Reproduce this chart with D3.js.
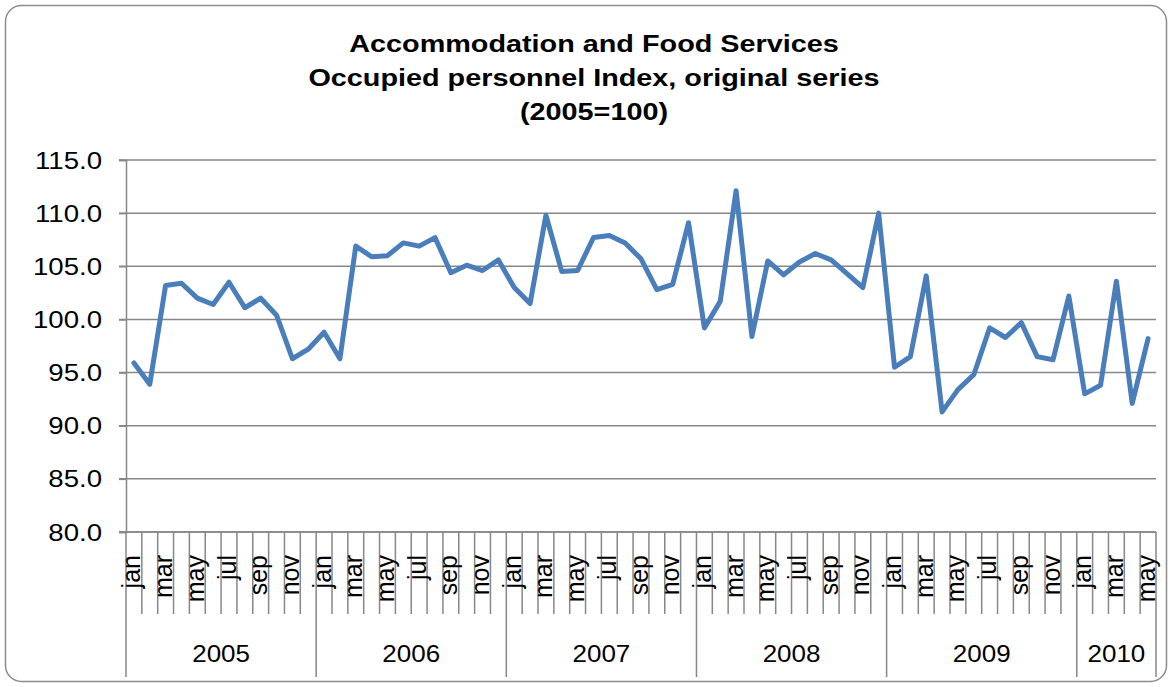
<!DOCTYPE html>
<html>
<head>
<meta charset="utf-8">
<script src="https://cdn.jsdelivr.net/npm/d3@7"></script>
<style>
  body { margin: 0; background: #fff; }
  svg { font-family: "Liberation Sans", Arial, sans-serif; }
</style>
</head>
<body>
<div id="chart"></div>
<script>
// Data
const years = [2005, 2006, 2007, 2008, 2009, 2010];
const monthNames = ['jan', 'feb', 'mar', 'apr', 'may', 'jun', 'jul', 'aug', 'sep', 'oct', 'nov', 'dec'];
const monthsPerYear = [12, 12, 12, 12, 12, 5];
const values = [
  95.9, 93.9, 103.2, 103.4, 102.0, 101.4, 103.5, 101.1, 102.0, 100.4, 96.3, 97.2,
  98.8, 96.3, 106.9, 105.9, 106.0, 107.2, 106.9, 107.7, 104.4, 105.1, 104.6, 105.6,
  103.0, 101.5, 109.8, 104.5, 104.6, 107.7, 107.9, 107.2, 105.7, 102.8, 103.3, 109.1,
  99.2, 101.7, 112.1, 98.4, 105.5, 104.2, 105.4, 106.2, 105.6, 104.3, 103.0, 110.0,
  95.5, 96.5, 104.1, 91.3, 93.4, 94.8, 99.2, 98.3, 99.7, 96.5, 96.2, 102.2,
  93.0, 93.8, 103.6, 92.1, 98.2
];
const yTicks = [80, 85, 90, 95, 100, 105, 110, 115];
const titleLines = ['Accommodation and Food Services', 'Occupied personnel Index, original series', '(2005=100)'];

// Build the category list
const categories = [];
years.forEach((y, yi) => {
  for (let m = 0; m < monthsPerYear[yi]; m++) {
    categories.push({ key: y + '-' + m, year: y, month: monthNames[m], m: m });
  }
});
const points = categories.map((c, i) => ({ key: c.key, value: values[i] }));

const W = 1172, H = 687;
const plot = { left: 126, right: 1156, top: 160, bottom: 532 };
// the reference text is a little wider than plain Arial
const stretch = 1.2;

const svg = d3.select('#chart').append('svg')
  .attr('width', W)
  .attr('height', H);

// Outer border
svg.append('rect')
  .attr('x', 5.5).attr('y', 5.5)
  .attr('width', W - 11).attr('height', H - 11)
  .attr('rx', 16)
  .attr('fill', '#fff')
  .attr('stroke', '#8c8c8c')
  .attr('stroke-width', 1.5);

// Title
svg.append('g').selectAll('text')
  .data(titleLines)
  .enter()
  .append('text')
  .attr('transform', (d, i) => `translate(594,${52 + i * 34}) scale(${stretch},1)`)
  .attr('text-anchor', 'middle')
  .attr('font-size', 24)
  .attr('font-weight', 'bold')
  .text(d => d);

// Scales
const x = d3.scaleBand()
  .domain(categories.map(c => c.key))
  .range([plot.left, plot.right]);

const y = d3.scaleLinear()
  .domain([80, 115])
  .range([plot.bottom, plot.top]);

// Gridlines
svg.append('g').selectAll('line')
  .data(yTicks)
  .enter()
  .append('line')
  .attr('x1', plot.left - 7)
  .attr('x2', plot.right)
  .attr('y1', d => y(d))
  .attr('y2', d => y(d))
  .attr('stroke', '#878787')
  .attr('stroke-width', 1.5);

// Y axis
const yAxis = svg.append('g')
  .attr('transform', `translate(${plot.left},0)`)
  .call(d3.axisLeft(y).tickValues(yTicks).tickFormat(d3.format('.1f')).tickSize(7));
yAxis.select('.domain').attr('stroke', '#878787').attr('stroke-width', 1.5);
yAxis.selectAll('.tick line').attr('stroke', '#878787').attr('stroke-width', 1.5);
yAxis.selectAll('.tick text')
  .attr('x', null)
  .attr('dy', null)
  .attr('transform', `translate(-24,8) scale(${stretch},1)`)
  .attr('font-size', 23)
  .attr('fill', '#000')
  .attr('font-family', '"Liberation Sans", Arial, sans-serif');

// X axis: category dividers
const boundaries = categories.map(c => x(c.key)).concat([plot.right]);
const yearStart = new Set();
let acc = 0;
monthsPerYear.forEach(n => { yearStart.add(acc); acc += n; });
yearStart.add(acc);

svg.append('g').selectAll('line')
  .data(boundaries)
  .enter()
  .append('line')
  .attr('x1', d => d)
  .attr('x2', d => d)
  .attr('y1', plot.bottom)
  .attr('y2', (d, i) => yearStart.has(i) ? 677 : 614)
  .attr('stroke', '#878787')
  .attr('stroke-width', 1.5);

svg.append('line')
  .attr('x1', plot.left - 7)
  .attr('x2', plot.right)
  .attr('y1', plot.bottom)
  .attr('y2', plot.bottom)
  .attr('stroke', '#878787')
  .attr('stroke-width', 1.5);

// Month labels (every other month)
svg.append('g').selectAll('text')
  .data(categories.filter(c => c.m % 2 === 0))
  .enter()
  .append('text')
  .attr('transform', d => `translate(${x(d.key) + x.bandwidth() / 2 + 6.5},555) rotate(-90)`)
  .attr('text-anchor', 'end')
  .attr('font-size', 25)
  .text(d => d.month);

// Year labels
let start = 0;
const yearSpans = years.map((yr, i) => {
  const s = { year: yr, x0: x(categories[start].key), x1: x(categories[start + monthsPerYear[i] - 1].key) + x.bandwidth() };
  start += monthsPerYear[i];
  return s;
});
svg.append('g').selectAll('text')
  .data(yearSpans)
  .enter()
  .append('text')
  .attr('transform', d => `translate(${(d.x0 + d.x1) / 2},662) scale(1.13,1)`)
  .attr('text-anchor', 'middle')
  .attr('font-size', 23)
  .text(d => d.year);

// Line
const line = d3.line()
  .x(d => x(d.key) + x.bandwidth() / 2)
  .y(d => y(d.value));

svg.append('path')
  .datum(points)
  .attr('d', line)
  .attr('fill', 'none')
  .attr('stroke', '#4a7ebb')
  .attr('stroke-width', 5)
  .attr('stroke-linejoin', 'round')
  .attr('stroke-linecap', 'round');
</script>
</body>
</html>
